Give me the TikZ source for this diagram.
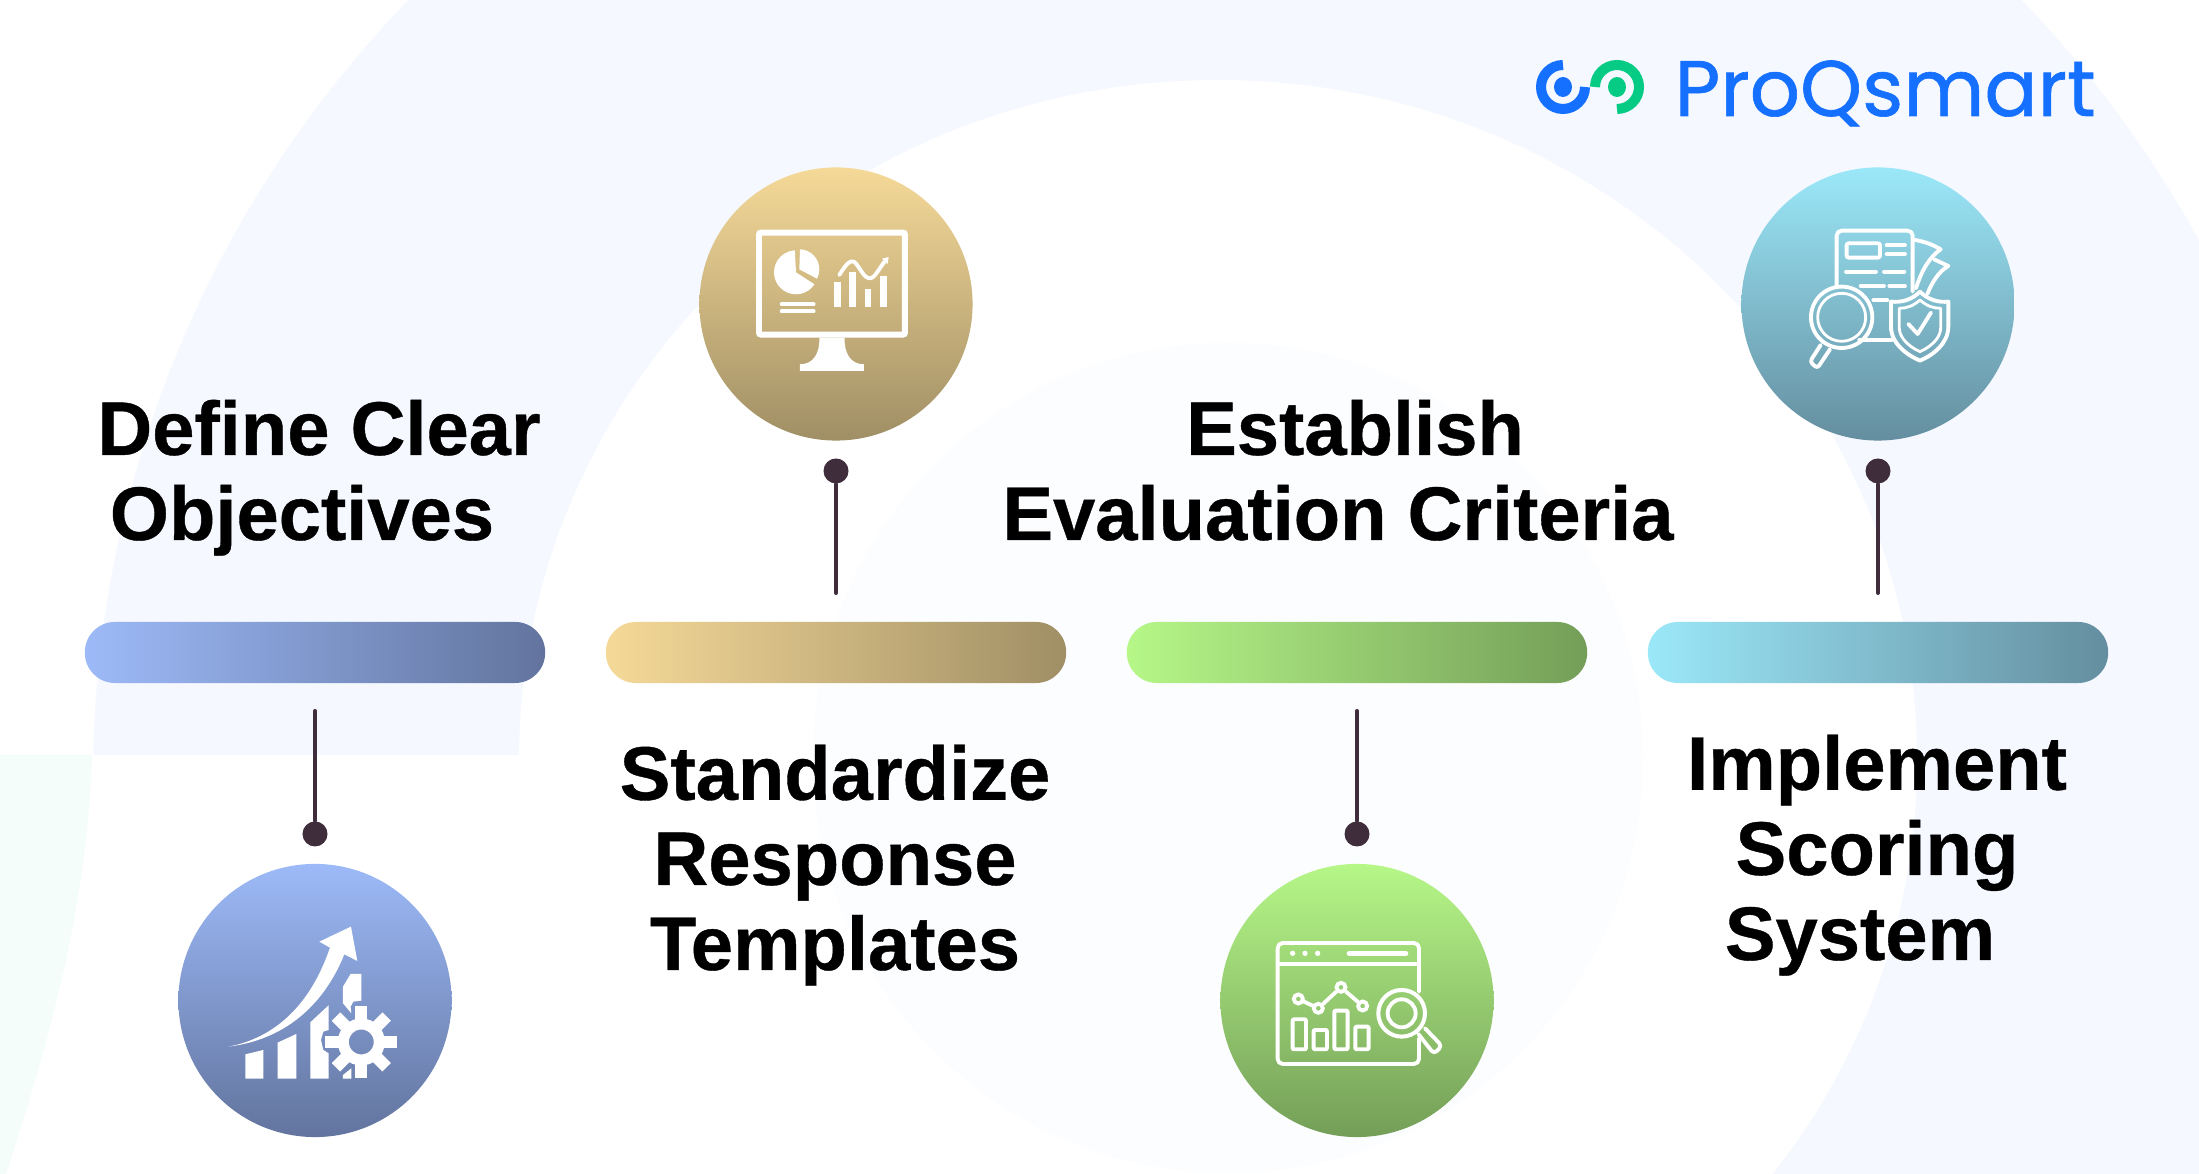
\documentclass[tikz,border=0pt]{standalone}
\usepackage{fontspec}
\setmainfont{Liberation Sans}[BoldFeatures={FakeBold=0.5}]
\newfontfamily\logofont{Poppins}[FakeBold=0.8]

\definecolor{ringblue}{HTML}{F5F8FF}
\definecolor{ringfaint}{HTML}{FCFDFF}
\definecolor{ringgreen}{HTML}{F5FDFA}
\definecolor{stemcolor}{HTML}{3F2D3B}
\definecolor{logoblue}{HTML}{1570FF}
\definecolor{logogreen}{HTML}{05CB84}
\definecolor{blueA}{HTML}{9DBAF8}
\definecolor{blueB}{HTML}{62749E}
\definecolor{goldA}{HTML}{F5D998}
\definecolor{goldB}{HTML}{A08F65}
\definecolor{greenA}{HTML}{B6F788}
\definecolor{greenB}{HTML}{749E58}
\definecolor{cyanA}{HTML}{9BE8F9}
\definecolor{cyanB}{HTML}{648E9F}

\begin{document}
\begin{tikzpicture}[x=0.01cm, y=-0.01cm,
	barbox/.style={rectangle, rounded corners=0.3cm, minimum width=4.6cm, minimum height=0.61cm, inner sep=0pt},
	discbox/.style={circle, minimum size=2.73cm, inner sep=0pt},
	pindot/.style={circle, fill=stemcolor, minimum size=0.25cm, inner sep=0pt},
	stemline/.style={stemcolor, line width=1.15pt, line cap=round},
	titletext/.style={align=center, anchor=base, inner sep=0pt, font=\fontsize{21.6}{24.2}\selectfont\bfseries},
	iconline/.style={white, line width=1.1pt, line cap=round, line join=round},
	iconfill/.style={white, draw=none},
	ringdot/.style={circle, draw=white, line width=1.1pt, minimum size=0.09cm, inner sep=0pt}]

	\useasboundingbox (0,0) rectangle (2199,1174);

	% Draw the background rings
	\begin{scope}
		\clip (0,0) rectangle (2199,1174);
		\fill[white] (0,0) rectangle (2199,1174);
		\fill[ringblue] (1215,780) circle[radius=1122];
		\fill[white] (1218,760) ellipse[x radius=699, y radius=680];
		\fill[white] (0,755) rectangle (800,1174);
		\fill[ringfaint] (1228,758) circle[radius=415];
		\fill[ringgreen] (0,755) -- (92,755) .. controls (88,900) and (50,1040) .. (6,1174) -- (0,1174) -- cycle;
	\end{scope}

	% Draw the logo
	\draw[logoblue, line width=2.85pt] (1563,65) arc[start angle=270, end angle=0, radius=22];
	\fill[logoblue] (1563,87) ellipse[x radius=9, y radius=10];
	\draw[logogreen, line width=2.85pt] (1595,87) arc[start angle=180, end angle=450, radius=22];
	\fill[logogreen] (1617,87) ellipse[x radius=9, y radius=10];
	\node[anchor=base west, inner sep=0pt, text=logoblue, font=\fontsize{22.4}{26}\logofont] (logo) at (1674,116) {ProQsmart};

	% Draw the bars
	\node[barbox, left color=blueA, right color=blueB] (barA) at (315,652.5) {};
	\node[barbox, left color=goldA, right color=goldB] (barB) at (836,652.5) {};
	\node[barbox, left color=greenA, right color=greenB] (barC) at (1357,652.5) {};
	\node[barbox, left color=cyanA, right color=cyanB] (barD) at (1878,652.5) {};

	% Draw the discs
	\node[discbox, top color=blueA, bottom color=blueB] (discA) at (315,1000.5) {};
	\node[discbox, top color=goldA, bottom color=goldB] (discB) at (836,304) {};
	\node[discbox, top color=greenA, bottom color=greenB] (discC) at (1357,1000.5) {};
	\node[discbox, top color=cyanA, bottom color=cyanB] (discD) at (1878,304) {};

	% Draw the pins
	\node[pindot] (pinA) at (315,834) {};
	\coordinate (stemA) at (315,711);
	\draw[stemline] (stemA) -- (pinA);
	\node[pindot] (pinB) at (836,471) {};
	\coordinate (stemB) at (836,593);
	\draw[stemline] (stemB) -- (pinB);
	\node[pindot] (pinC) at (1357,834) {};
	\coordinate (stemC) at (1357,711);
	\draw[stemline] (stemC) -- (pinC);
	\node[pindot] (pinD) at (1878,471) {};
	\coordinate (stemD) at (1878,593);
	\draw[stemline] (stemD) -- (pinD);

	% Draw the titles
	\node[titletext] (titleA) at (319,540) {Define Clear\\Objectives\hspace*{0.34cm}};
	\node[titletext] (titleB) at (835,970) {Standardize\\Response\\Templates};
	\node[titletext] (titleC) at (1355,540) {Establish\\Evaluation Criteria\hspace*{0.34cm}};
	\node[titletext] (titleD) at (1877,960) {Implement\\Scoring\\System\hspace*{0.34cm}};

	% Draw the chart and gear icon
	\begin{scope}[shift={(160,850)}, scale=0.3333]
		\fill[iconfill] (256,686) -- (256,613) -- (310,600) -- (310,686) -- cycle;
		\fill[iconfill] (353,686) -- (353,578) -- (409,552) -- (409,686) -- cycle;
		\fill[iconfill] (451,686) -- (451,517) -- (506,466) -- (506,540) -- (490,545) -- (483,570) -- (490,600) -- (506,610) -- (506,686) -- cycle;
		\fill[iconfill] (549,410) -- (572,372) -- (604,372) -- (604,452) -- (580,455) -- (572,470) -- (574,490) -- (549,460) -- cycle;
		\fill[iconfill] (549,686) -- (549,675) -- (574,655) -- (574,686) -- cycle;
		\fill[iconfill] (205,590) .. controls (340,565) and (450,470) .. (510,293) -- (478,275) -- (573,230) -- (592,333) -- (553,313) .. controls (490,470) and (370,570) .. (205,590) -- cycle;
		\draw[white, line width=3.13pt] (604,576) circle[radius=54];
		\draw[white, line width=3.4pt] (604+60,576) -- (604+108,576);
		\draw[white, line width=3.4pt] (604-60,576) -- (604-108,576);
		\draw[white, line width=3.4pt] (604,576+60) -- (604,576+108);
		\draw[white, line width=3.4pt] (604,576-60) -- (604,576-108);
		\draw[white, line width=3.4pt] (604+42,576+42) -- (604+76,576+76);
		\draw[white, line width=3.4pt] (604+42,576-42) -- (604+76,576-76);
		\draw[white, line width=3.4pt] (604-42,576+42) -- (604-76,576+76);
		\draw[white, line width=3.4pt] (604-42,576-42) -- (604-76,576-76);
	\end{scope}

	% Draw the monitor icon
	\begin{scope}[shift={(690,160)}, scale=0.3333]
		\draw[white, line width=1.7pt, rounded corners=0.02cm] (207,218) rectangle (645,524);
		\fill[iconfill] (388,533) .. controls (390,580) and (370,613) .. (330,613) -- (330,633) -- (522,633) -- (522,613) .. controls (482,613) and (462,580) .. (464,533) -- cycle;
		\fill[iconfill] (318,337) -- +(33:66) arc[start angle=33, end angle=267, radius=66] -- cycle;
		\fill[iconfill] (328,328) -- +(272:60) arc[start angle=272, end angle=388, radius=60] -- cycle;
		\draw[iconline] (275,433) -- (371,433);
		\draw[iconline] (275,454) -- (371,454);
		\fill[iconfill] (432,365) rectangle (452,442);
		\fill[iconfill] (478,335) rectangle (498,442);
		\fill[iconfill] (524,388) rectangle (544,442);
		\fill[iconfill] (570,348) rectangle (590,442);
		\draw[iconline] (448,345) .. controls (470,310) and (480,300) .. (492,305) .. controls (510,320) and (520,355) .. (540,355) .. controls (555,355) and (570,320) .. (588,300);
		\fill[iconfill] (576,296) -- (596,291) -- (593,312) -- cycle;
	\end{scope}

	% Draw the window and lens icon
	\begin{scope}[shift={(1210,860)}, scale=0.3333]
		\draw[iconline, rounded corners=0.05cm] (627,395) -- (627,249) -- (203,249) -- (203,612) -- (627,612) -- (627,535);
		\draw[iconline] (203,312) -- (627,312);
		\fill[iconfill] (248,280) circle[radius=8];
		\fill[iconfill] (285,280) circle[radius=8];
		\fill[iconfill] (323,280) circle[radius=8];
		\draw[white, line width=1.3pt, line cap=round] (417,280) -- (588,280);
		\node[ringdot] (pointA) at (265,417) {};
		\node[ringdot] (pointB) at (325,445) {};
		\node[ringdot] (pointC) at (393,382) {};
		\node[ringdot] (pointD) at (458,438) {};
		\draw[iconline] (pointA) -- (pointB);
		\draw[iconline] (pointB) -- (pointC);
		\draw[iconline] (pointC) -- (pointD);
		\draw[iconline, rounded corners=0.01cm] (248,478) rectangle (288,568);
		\draw[iconline, rounded corners=0.01cm] (311,510) rectangle (351,568);
		\draw[iconline, rounded corners=0.01cm] (373,452) rectangle (413,568);
		\draw[iconline, rounded corners=0.01cm] (436,500) rectangle (476,568);
		\draw[white, line width=1.15pt] (575,460) circle[radius=70];
		\draw[iconline] (575,460) circle[radius=42];
		\draw[iconline, rounded corners=0.04cm] (625,522) -- (672,582) -- (696,558) -- (645,505);
	\end{scope}

	% Draw the report and shield icon
	\begin{scope}[shift={(1730,160)}, scale=0.3333]
		\draw[iconline, rounded corners=0.05cm] (320,380) -- (320,212) -- (548,212) -- (548,395);
		\draw[iconline] (388,540) -- (485,540);
		\draw[iconline, rounded corners=0.02cm] (350,250) rectangle (450,293);
		\draw[iconline] (470,255) -- (525,255);
		\draw[iconline] (470,282) -- (525,282);
		\draw[iconline] (348,335) -- (438,335);
		\draw[iconline] (462,335) -- (523,335);
		\draw[iconline] (392,378) -- (462,378);
		\draw[iconline] (478,378) -- (525,378);
		\draw[iconline] (430,420) -- (472,420);
		\draw[iconline] (555,240) .. controls (585,245) and (610,255) .. (632,268) .. controls (600,290) and (575,330) .. (558,385);
		\draw[iconline] (612,298) -- (655,318) .. controls (625,335) and (605,370) .. (592,402);
		\draw[iconline] (570,395) .. controls (595,420) and (625,428) .. (655,425) -- (655,500) .. controls (655,550) and (610,585) .. (570,602) .. controls (530,585) and (483,550) .. (483,500) -- (483,425) .. controls (515,428) and (545,420) .. (570,395) -- cycle;
		\draw[white, line width=0.8pt, line join=round] (570,420) .. controls (590,438) and (610,445) .. (632,445) -- (632,505) .. controls (632,535) and (600,562) .. (570,575) .. controls (540,562) and (508,535) .. (508,505) -- (508,445) .. controls (530,445) and (550,438) .. (570,420) -- cycle;
		\draw[iconline] (535,492) -- (563,522) -- (603,458);
		\draw[iconline] (335,472) circle[radius=92];
		\draw[white, line width=0.8pt] (335,472) circle[radius=72];
		\draw[iconline, rounded corners=0.03cm] (272,555) -- (240,605) -- (262,625) -- (300,568);
	\end{scope}

\end{tikzpicture}
\end{document}
